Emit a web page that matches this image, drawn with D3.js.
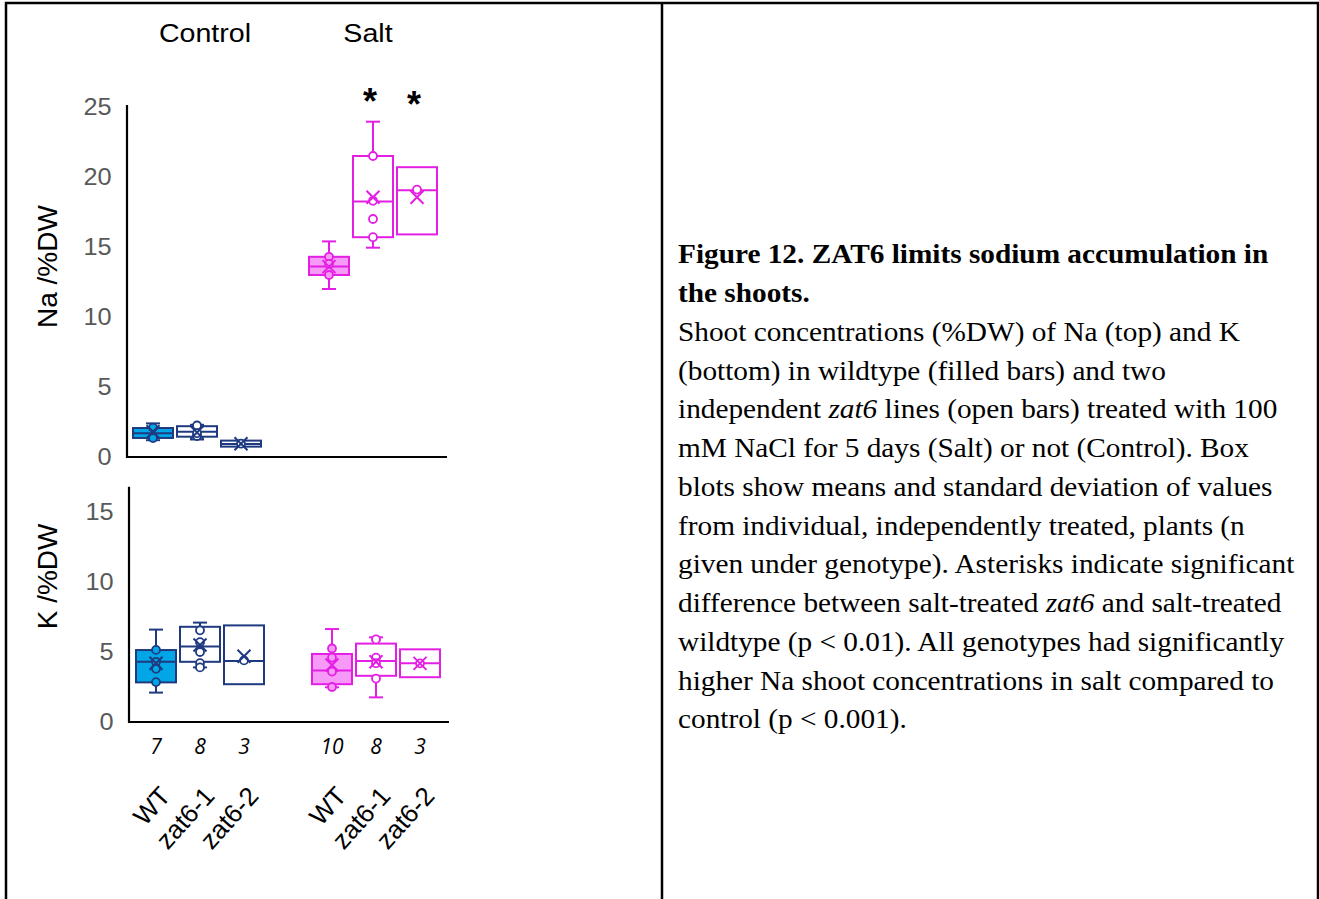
<!DOCTYPE html>
<html>
<head>
<meta charset="utf-8">
<script src="https://cdn.jsdelivr.net/npm/d3@7"></script>
<style>
  body { margin:0; background:#fff; }
  svg text { font-family: "Liberation Sans", Arial, sans-serif; }
  .caption { font-family: "Liberation Serif", "Times New Roman", serif; font-size:27px; fill:#000; }
</style>
</head>
<body>
<svg id="fig" width="1319" height="899"></svg>
<script>
// groups, left to right (slot 3 is the gap between Control and Salt)
var genotypes = ["WT", "zat6-1", "zat6-2", "WT", "zat6-1", "zat6-2"];
var treatments = ["Control", "Control", "Control", "Salt", "Salt", "Salt"];
var slots = [0, 1, 2, 4, 5, 6];
var nPlants = ["7", "8", "3", "10", "8", "3"];
var filled = [true, false, false, true, false, false];
var signif = [false, false, false, false, true, true];

// Na (%DW)
var naMin    = [1.2, 1.25, 0.74, 12.0, 14.95, 15.9];
var naQ1     = [1.36, 1.45, 0.74, 13.0, 15.7, 15.9];
var naMedian = [1.7, 1.8, 0.93, 13.6, 18.25, 19.05];
var naQ3     = [2.07, 2.2, 1.17, 14.3, 21.5, 20.7];
var naMax    = [2.4, 2.3, 1.17, 15.4, 23.95, 20.7];
var naMean   = [1.8, 1.75, 0.95, 13.6, 18.55, 18.55];
var naPoints = [[2.1, 1.35], [2.25, 1.5, 1.7], [0.95], [14.3, 13.8, 13.0], [21.5, 18.3, 17.0, 15.7], [19.1]];

// K (%DW)
var kMin    = [2.1, 3.9, 2.7, 2.48, 1.76, 3.2];
var kQ1     = [2.83, 4.3, 2.7, 2.7, 3.3, 3.2];
var kMedian = [4.3, 5.4, 4.35, 3.67, 4.36, 4.19];
var kQ3     = [5.14, 6.8, 6.9, 4.86, 5.6, 5.19];
var kMax    = [6.6, 7.1, 6.9, 6.64, 6.05, 5.19];
var kMean   = [4.2, 5.5, 4.7, 4.07, 4.3, 4.19];
var kPoints = [[5.15, 4.3, 3.8, 2.85], [6.55, 5.7, 5.0, 4.2, 3.9], [4.4], [5.25, 4.6, 3.6, 2.5], [5.9, 4.6, 4.2, 3.1], [4.19]];

var naTicks = [0, 5, 10, 15, 20, 25];
var kTicks = [0, 5, 10, 15];

var captionLines = [
  [["Figure 12. ZAT6 limits sodium accumulation in", "b"]],
  [["the shoots.", "b"]],
  [["Shoot concentrations (%DW) of Na (top) and K", ""]],
  [["(bottom) in wildtype (filled bars) and two", ""]],
  [["independent ", ""], ["zat6", "i"], [" lines (open bars) treated with 100", ""]],
  [["mM NaCl for 5 days (Salt) or not (Control). Box", ""]],
  [["blots show means and standard deviation of values", ""]],
  [["from individual, independently treated, plants (n", ""]],
  [["given under genotype). Asterisks indicate significant", ""]],
  [["difference between salt-treated ", ""], ["zat6", "i"], [" and salt-treated", ""]],
  [["wildtype (p < 0.01). All genotypes had significantly", ""]],
  [["higher Na shoot concentrations in salt compared to", ""]],
  [["control (p < 0.001).", ""]]
];

var blue = "#00a6e6", navy = "#1f3a80", pink = "#e41fe4", pinkFill = "#f79af7";

var svg = d3.select("#fig");

// table frame
svg.append("path")
   .attr("d", "M6,900 V3 H1318 V900 M662,3 V900")
   .attr("fill", "none").attr("stroke", "#000").attr("stroke-width", 2.5);

function makeData(mn, q1, med, q3, mx, mean, pts) {
  return genotypes.map(function(g, i) {
    return {g: g, t: treatments[i], slot: slots[i], min: mn[i], q1: q1[i], med: med[i], q3: q3[i],
            max: mx[i], mean: mean[i], pts: pts[i], filled: filled[i]};
  });
}

function panel(data, opt) {
  var x = d3.scaleLinear().domain([0, 6]).range([opt.x0, opt.x0 + 264]);
  var y = d3.scaleLinear().domain([0, opt.ymax]).range([opt.bottom, opt.top]);
  var g = svg.append("g");

  var ax = g.append("g")
      .attr("transform", "translate(" + opt.axisX + ",0)")
      .call(d3.axisLeft(y).tickValues(opt.ticks).tickSize(0).tickPadding(14));
  ax.select(".domain").remove();
  ax.selectAll("text").attr("fill", "#595959").style("font-size", "23px").attr("transform", "scale(1.1,1)");

  g.append("path")
   .attr("d", "M" + opt.axisX + "," + y(opt.axisTop) + " V" + opt.bottom + " H" + opt.axisEnd)
   .attr("fill", "none").attr("stroke", "#000").attr("stroke-width", 2.2);

  g.append("text")
   .attr("transform", "translate(57," + y(opt.ymid) + ") rotate(-90)")
   .attr("text-anchor", "middle")
   .style("font-size", "28px")
   .text(opt.label);

  var hw = 20;
  g.selectAll(".box").data(data).enter().append("g").attr("class", "box")
      .each(function(d) {
        var b = d3.select(this), cx = x(d.slot);
        var stroke = d.t == "Control" ? navy : pink;
        var fill = d.filled ? (d.t == "Control" ? blue : pinkFill) : "#fff";
        // whiskers
        [[d.q3, d.max], [d.q1, d.min]].forEach(function(w) {
          if (Math.abs(w[0] - w[1]) < 1e-6) return;
          b.append("line").attr("x1", cx).attr("x2", cx).attr("y1", y(w[0])).attr("y2", y(w[1]))
           .attr("stroke", stroke).attr("stroke-width", 2);
          b.append("line").attr("x1", cx - 7).attr("x2", cx + 7).attr("y1", y(w[1])).attr("y2", y(w[1]))
           .attr("stroke", stroke).attr("stroke-width", 2);
        });
        b.append("rect")
         .attr("x", cx - hw).attr("width", hw * 2)
         .attr("y", y(d.q3)).attr("height", y(d.q1) - y(d.q3))
         .attr("fill", fill).attr("stroke", stroke).attr("stroke-width", 2);
        b.append("line").attr("x1", cx - hw).attr("x2", cx + hw).attr("y1", y(d.med)).attr("y2", y(d.med))
         .attr("stroke", stroke).attr("stroke-width", 2);
        b.selectAll("circle").data(d.pts).enter().append("circle")
         .attr("cx", cx).attr("cy", function(v) { return y(v); }).attr("r", 4)
         .attr("fill", fill).attr("stroke", stroke).attr("stroke-width", 1.8);
        var my = y(d.mean), s = 6.5;
        b.append("path")
         .attr("d", "M" + (cx - s) + "," + (my - s) + "L" + (cx + s) + "," + (my + s) +
                    "M" + (cx - s) + "," + (my + s) + "L" + (cx + s) + "," + (my - s))
         .attr("stroke", stroke).attr("stroke-width", 2);
      });
  return {x: x, y: y};
}

var na = panel(makeData(naMin, naQ1, naMedian, naQ3, naMax, naMean, naPoints),
  {x0: 153, top: 107, bottom: 457, ymax: 25, axisX: 127, axisTop: 25.15, axisEnd: 447, ticks: naTicks, label: "Na /%DW", ymid: 13.6});
var k = panel(makeData(kMin, kQ1, kMedian, kQ3, kMax, kMean, kPoints),
  {x0: 156, top: 512, bottom: 722, ymax: 15, axisX: 129, axisTop: 16.8, axisEnd: 449, ticks: kTicks, label: "K /%DW", ymid: 10.4});

// treatment headers
[["Control", 205], ["Salt", 368]].forEach(function(h) {
  svg.append("text").attr("transform", "translate(" + h[1] + ",42) scale(1.1,1)")
     .attr("text-anchor", "middle").style("font-size", "26px").text(h[0]);
});

// asterisks
svg.selectAll(".star").data(slots.filter(function(s, i) { return signif[i]; })).enter().append("text")
   .attr("class", "star")
   .attr("x", function(s) { return na.x(s) - 3; })
   .attr("y", function(s, i) { return 114 + i * 3; }).attr("text-anchor", "middle")
   .style("font-size", "36px").style("font-weight", "bold")
   .text("*");

// n under genotype
svg.selectAll(".nlab").data(slots).enter().append("text")
   .attr("class", "nlab")
   .attr("x", function(s) { return k.x(s); })
   .attr("y", 754).attr("text-anchor", "middle")
   .style("font-family", "'Open Sans', sans-serif").style("font-style", "italic").style("font-size", "21px")
   .text(function(s, i) { return nPlants[i]; });

// genotype labels
svg.selectAll(".glab").data(slots).enter().append("text")
   .attr("class", "glab")
   .attr("transform", function(s) { return "translate(" + (k.x(s) + 16) + ",797) rotate(-48)"; })
   .attr("text-anchor", "end")
   .style("font-size", "26px")
   .text(function(s, i) { return genotypes[i]; });

// caption
var cap = svg.append("g").attr("transform", "translate(678,0) scale(1.085,1)")
   .append("text").attr("class", "caption");
captionLines.forEach(function(line, i) {
  var first = true;
  line.forEach(function(part) {
    var ts = cap.append("tspan").text(part[0]);
    if (first) { ts.attr("x", 0).attr("y", 263.5 + i * 38.75); first = false; }
    if (part[1] == "b") ts.style("font-weight", "bold");
    if (part[1] == "i") ts.style("font-style", "italic");
  });
});
</script>
</body>
</html>
